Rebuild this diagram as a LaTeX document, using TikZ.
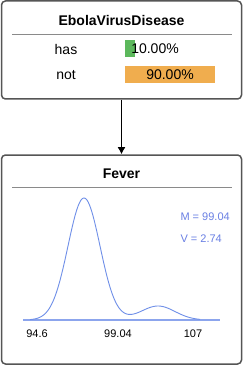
\documentclass[tikz,border=0pt]{standalone}
\usepackage{fontspec}
\setmainfont{Liberation Sans}
\usetikzlibrary{arrows.meta, positioning, calc}

\definecolor{boxgray}{HTML}{555555}
\definecolor{sepgray}{HTML}{8A8A8A}
\definecolor{hasgreen}{HTML}{5CB85C}
\definecolor{notorange}{HTML}{F0AD4E}
\definecolor{curveblue}{HTML}{6F8FE8}
\definecolor{statblue}{HTML}{6A80E4}

\tikzset{
    varbox/.style={draw=boxgray, line width=1.5pt, rounded corners=4pt, fill=white, inner sep=0pt},
    title/.style={font=\fontsize{14}{16}\selectfont\bfseries},
    label/.style={font=\fontsize{14}{16}\selectfont},
    tick/.style={font=\fontsize{11}{13}\selectfont},
    stat/.style={font=\fontsize{11}{13}\selectfont, text=statblue, anchor=west}
}

\begin{document}
\begin{tikzpicture}[x=1pt, y=-1pt, >=latex]
        \useasboundingbox (0,0) rectangle (246,366);
        \node[varbox, minimum width=240pt, minimum height=98pt] (evd) at (121.5,50) {};
        \node[varbox, minimum width=240pt, minimum height=209pt] (fever) at (121.5,259.5) {};
        
        % EbolaVirusDisease
        \node[title] (evdtitle) at (121.5,20) {EbolaVirusDisease};
        \draw[sepgray] (12,34) -- (232,34);
        \node[label] (has) at (66,49) {has};
        \node[label] (not) at (66,75) {not};
        \fill[hasgreen] (125,40) rectangle (135,57);
        \fill[notorange] (125,66) rectangle (215,83);
        \node[label] (hasval) at (155,49) {10.00\%};
        \node[label] (notval) at (170,75) {90.00\%};
        
        % Fever
        \node[title] (fevertitle) at (121.5,174) {Fever};
        \draw[sepgray] (12,187) -- (232,187);
        \draw[curveblue!80, line width=1.3pt] (23,320) -- (220,320);
        \draw[curveblue, line width=0.9pt] plot[domain=30:200, samples=150, smooth]
            (\x, {320 - 122*exp(-0.5*((\x-84)/16)^2) - 14*exp(-0.5*((\x-158)/17)^2)});
        \node[tick] (lo) at (37,334) {94.6};
        \node[tick] (mid) at (118,334) {99.04};
        \node[tick] (hi) at (193,334) {107};
        \node[stat] (mean) at (177,217) {M = 99.04};
        \node[stat] (var) at (177,239) {V = 2.74};
        
        \draw[-{Latex[length=7pt, width=8pt]}, line width=1.3pt] (evd.south) -- (fever.north);
    \end{tikzpicture}
\end{document}
